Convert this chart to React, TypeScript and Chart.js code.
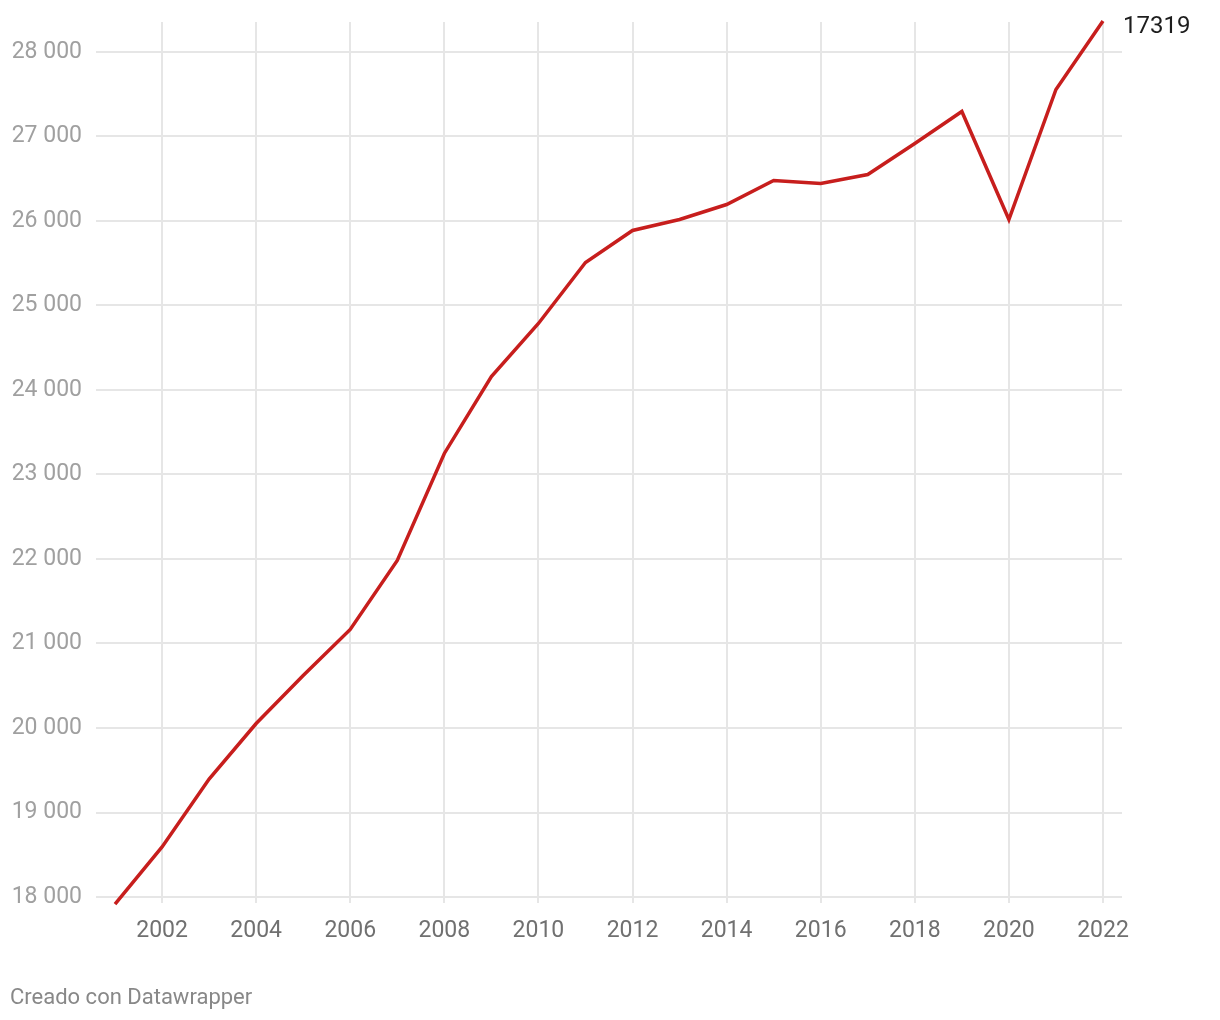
import React, { useEffect, useRef } from "react";
import { Chart, registerables } from "chart.js";

Chart.register(...registerables);

const years = [2001, 2002, 2003, 2004, 2005, 2006, 2007, 2008, 2009, 2010, 2011, 2012, 2013, 2014, 2015, 2016, 2017, 2018, 2019, 2020, 2021, 2022];
const values = [17917, 18592, 19396, 20053, 20621, 21166, 21982, 23249, 24160, 24787, 25509, 25888, 26018, 26195, 26479, 26444, 26550, 26917, 27296, 26018, 27556, 28367];
const xTickValues = [2002, 2004, 2006, 2008, 2010, 2012, 2014, 2016, 2018, 2020, 2022];
const yTickValues = [18000, 19000, 20000, 21000, 22000, 23000, 24000, 25000, 26000, 27000, 28000];
const endLabel = "17319";
const footer = "Creado con Datawrapper";

const fmt = (v: number) => String(v).replace(/\B(?=(\d{3})+(?!\d))/g, " ");

export default function App() {
  const ref = useRef<HTMLCanvasElement | null>(null);

  useEffect(() => {
    if (!ref.current) return;
    const endLabelPlugin = {
      id: "endLabel",
      afterDatasetsDraw(chart: any) {
        const meta = chart.getDatasetMeta(0);
        const pt = meta.data[meta.data.length - 1];
        if (!pt) return;
        const ctx = chart.ctx;
        ctx.save();
        ctx.font = "24px Roboto";
        ctx.fillStyle = "#1d1d1d";
        ctx.textAlign = "left";
        ctx.textBaseline = "middle";
        ctx.fillText(endLabel, pt.x + 20, pt.y + 6);
        ctx.restore();
      },
    };
    const chart = new Chart(ref.current, {
      type: "line",
      data: {
        datasets: [
          {
            data: years.map((y, i) => ({ x: y, y: values[i] })),
            borderColor: "#c71e1d",
            borderWidth: 3.5,
            pointRadius: 0,
            tension: 0,
            clip: false as any,
          },
        ],
      },
      options: {
        animation: false,
        responsive: false,
        maintainAspectRatio: false,
        layout: { padding: { left: 0, top: 22, right: 98, bottom: 0 } },
        plugins: { legend: { display: false }, tooltip: { enabled: false } },
        scales: {
          x: {
            type: "linear",
            min: 2000.596,
            max: 2022.404,
            afterBuildTicks: (s: any) => {
              s.ticks = xTickValues.map((v) => ({ value: v }));
            },
            afterFit: (s: any) => {
              s.height = 117;
              s.paddingLeft = 0;
              s.paddingRight = 0;
            },
            grid: { color: "#e6e6e6", lineWidth: 2, drawTicks: false },
            border: { display: false },
            ticks: {
              padding: 14,
              color: "#707070",
              font: { family: "Roboto", size: 23 },
              maxRotation: 0,
              autoSkip: false,
              callback: (v: any) => String(v),
            },
          },
          y: {
            type: "linear",
            min: 17929,
            max: 28355,
            afterBuildTicks: (s: any) => {
              s.ticks = yTickValues.map((v) => ({ value: v }));
            },
            afterFit: (s: any) => {
              s.width = 96;
              s.paddingTop = 0;
              s.paddingBottom = 0;
            },
            grid: { color: "#e6e6e6", lineWidth: 2, drawTicks: false },
            border: { display: false },
            ticks: {
              padding: 14,
              color: "#a0a0a0",
              font: { family: "Roboto", size: 23 },
              autoSkip: false,
              callback: (v: any) => fmt(Number(v)),
            },
          },
        },
      },
      plugins: [endLabelPlugin],
    });
    return () => chart.destroy();
  }, []);

  return (
    <div style={{ position: "fixed", left: 0, top: 0, width: 1220, height: 1020, background: "#fff" }}>
      <canvas ref={ref} width={1220} height={1020} style={{ display: "block", width: 1220, height: 1020 }} />
      <div
        style={{
          position: "absolute",
          left: 10,
          top: 984,
          fontFamily: "Roboto",
          fontSize: 22,
          color: "#888888",
          lineHeight: "26px",
        }}
      >
        {footer}
      </div>
    </div>
  );
}
